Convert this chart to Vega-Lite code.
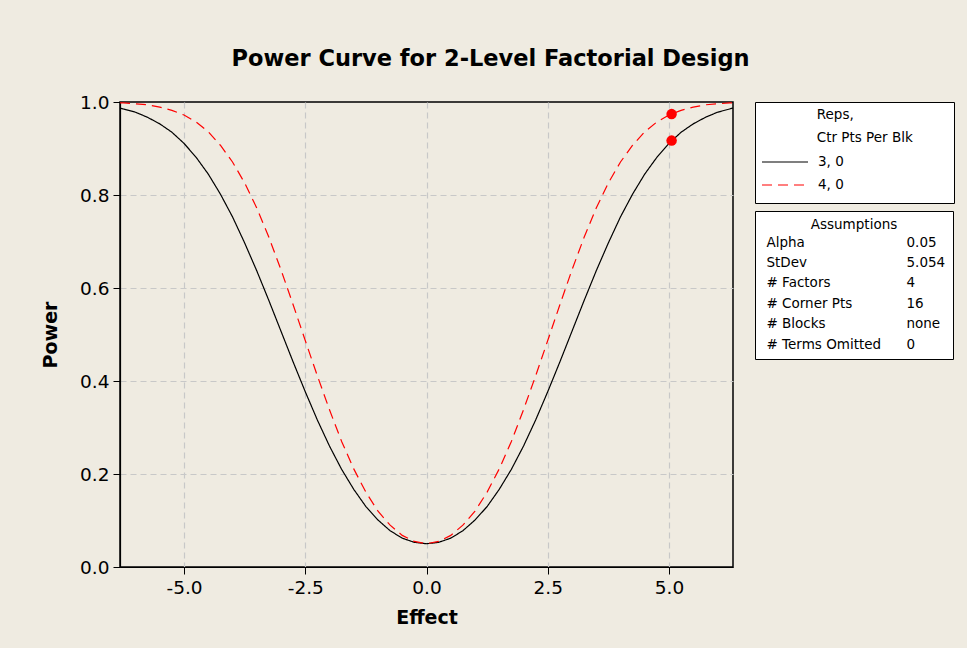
{
  "$schema": "https://vega.github.io/schema/vega-lite/v6.json",
  "width": 613,
  "height": 465,
  "autosize": {"type": "none"},
  "padding": {"left": 120, "top": 102, "right": 234, "bottom": 81},
  "background": "#efebe1",
  "title": {"text": "Power Curve for 2-Level Factorial Design", "fontSize": 22.5, "fontWeight": "bold", "font": "DejaVu Sans", "color": "black", "anchor": "middle", "dx": 64, "offset": 23},
  "datasets": {
    "curves": [
      {"effect": -6.32, "power": 0.987, "reps": "3, 0"}, {"effect": -6.25, "power": 0.985, "reps": "3, 0"}, {"effect": -6.0, "power": 0.978, "reps": "3, 0"}, {"effect": -5.75, "power": 0.967, "reps": "3, 0"}, {"effect": -5.5, "power": 0.953, "reps": "3, 0"}, {"effect": -5.25, "power": 0.935, "reps": "3, 0"}, {"effect": -5.0, "power": 0.911, "reps": "3, 0"}, {"effect": -4.75, "power": 0.881, "reps": "3, 0"}, {"effect": -4.5, "power": 0.845, "reps": "3, 0"}, {"effect": -4.25, "power": 0.802, "reps": "3, 0"}, {"effect": -4.0, "power": 0.753, "reps": "3, 0"}, {"effect": -3.75, "power": 0.697, "reps": "3, 0"}, {"effect": -3.5, "power": 0.637, "reps": "3, 0"}, {"effect": -3.25, "power": 0.573, "reps": "3, 0"}, {"effect": -3.0, "power": 0.507, "reps": "3, 0"}, {"effect": -2.75, "power": 0.441, "reps": "3, 0"}, {"effect": -2.5, "power": 0.377, "reps": "3, 0"}, {"effect": -2.25, "power": 0.316, "reps": "3, 0"}, {"effect": -2.0, "power": 0.26, "reps": "3, 0"}, {"effect": -1.75, "power": 0.21, "reps": "3, 0"}, {"effect": -1.5, "power": 0.167, "reps": "3, 0"}, {"effect": -1.25, "power": 0.13, "reps": "3, 0"}, {"effect": -1.0, "power": 0.101, "reps": "3, 0"}, {"effect": -0.75, "power": 0.078, "reps": "3, 0"}, {"effect": -0.5, "power": 0.062, "reps": "3, 0"}, {"effect": -0.25, "power": 0.053, "reps": "3, 0"}, {"effect": 0.0, "power": 0.05, "reps": "3, 0"}, {"effect": 0.25, "power": 0.053, "reps": "3, 0"}, {"effect": 0.5, "power": 0.062, "reps": "3, 0"}, {"effect": 0.75, "power": 0.078, "reps": "3, 0"}, {"effect": 1.0, "power": 0.101, "reps": "3, 0"}, {"effect": 1.25, "power": 0.13, "reps": "3, 0"}, {"effect": 1.5, "power": 0.167, "reps": "3, 0"}, {"effect": 1.75, "power": 0.21, "reps": "3, 0"}, {"effect": 2.0, "power": 0.26, "reps": "3, 0"}, {"effect": 2.25, "power": 0.316, "reps": "3, 0"}, {"effect": 2.5, "power": 0.377, "reps": "3, 0"}, {"effect": 2.75, "power": 0.441, "reps": "3, 0"}, {"effect": 3.0, "power": 0.507, "reps": "3, 0"}, {"effect": 3.25, "power": 0.573, "reps": "3, 0"}, {"effect": 3.5, "power": 0.637, "reps": "3, 0"}, {"effect": 3.75, "power": 0.697, "reps": "3, 0"}, {"effect": 4.0, "power": 0.753, "reps": "3, 0"}, {"effect": 4.25, "power": 0.802, "reps": "3, 0"}, {"effect": 4.5, "power": 0.845, "reps": "3, 0"}, {"effect": 4.75, "power": 0.881, "reps": "3, 0"}, {"effect": 5.0, "power": 0.911, "reps": "3, 0"}, {"effect": 5.25, "power": 0.935, "reps": "3, 0"}, {"effect": 5.5, "power": 0.953, "reps": "3, 0"}, {"effect": 5.75, "power": 0.967, "reps": "3, 0"}, {"effect": 6.0, "power": 0.978, "reps": "3, 0"}, {"effect": 6.25, "power": 0.985, "reps": "3, 0"}, {"effect": 6.32, "power": 0.987, "reps": "3, 0"},
      {"effect": -6.32, "power": 0.998, "reps": "4, 0"}, {"effect": -6.25, "power": 0.998, "reps": "4, 0"}, {"effect": -6.0, "power": 0.996, "reps": "4, 0"}, {"effect": -5.75, "power": 0.994, "reps": "4, 0"}, {"effect": -5.5, "power": 0.989, "reps": "4, 0"}, {"effect": -5.25, "power": 0.982, "reps": "4, 0"}, {"effect": -5.0, "power": 0.972, "reps": "4, 0"}, {"effect": -4.75, "power": 0.957, "reps": "4, 0"}, {"effect": -4.5, "power": 0.936, "reps": "4, 0"}, {"effect": -4.25, "power": 0.907, "reps": "4, 0"}, {"effect": -4.0, "power": 0.871, "reps": "4, 0"}, {"effect": -3.75, "power": 0.826, "reps": "4, 0"}, {"effect": -3.5, "power": 0.772, "reps": "4, 0"}, {"effect": -3.25, "power": 0.709, "reps": "4, 0"}, {"effect": -3.0, "power": 0.639, "reps": "4, 0"}, {"effect": -2.75, "power": 0.564, "reps": "4, 0"}, {"effect": -2.5, "power": 0.487, "reps": "4, 0"}, {"effect": -2.25, "power": 0.411, "reps": "4, 0"}, {"effect": -2.0, "power": 0.338, "reps": "4, 0"}, {"effect": -1.75, "power": 0.27, "reps": "4, 0"}, {"effect": -1.5, "power": 0.211, "reps": "4, 0"}, {"effect": -1.25, "power": 0.161, "reps": "4, 0"}, {"effect": -1.0, "power": 0.12, "reps": "4, 0"}, {"effect": -0.75, "power": 0.09, "reps": "4, 0"}, {"effect": -0.5, "power": 0.068, "reps": "4, 0"}, {"effect": -0.25, "power": 0.055, "reps": "4, 0"}, {"effect": 0.0, "power": 0.05, "reps": "4, 0"}, {"effect": 0.25, "power": 0.055, "reps": "4, 0"}, {"effect": 0.5, "power": 0.068, "reps": "4, 0"}, {"effect": 0.75, "power": 0.09, "reps": "4, 0"}, {"effect": 1.0, "power": 0.12, "reps": "4, 0"}, {"effect": 1.25, "power": 0.161, "reps": "4, 0"}, {"effect": 1.5, "power": 0.211, "reps": "4, 0"}, {"effect": 1.75, "power": 0.27, "reps": "4, 0"}, {"effect": 2.0, "power": 0.338, "reps": "4, 0"}, {"effect": 2.25, "power": 0.411, "reps": "4, 0"}, {"effect": 2.5, "power": 0.487, "reps": "4, 0"}, {"effect": 2.75, "power": 0.564, "reps": "4, 0"}, {"effect": 3.0, "power": 0.639, "reps": "4, 0"}, {"effect": 3.25, "power": 0.709, "reps": "4, 0"}, {"effect": 3.5, "power": 0.772, "reps": "4, 0"}, {"effect": 3.75, "power": 0.826, "reps": "4, 0"}, {"effect": 4.0, "power": 0.871, "reps": "4, 0"}, {"effect": 4.25, "power": 0.907, "reps": "4, 0"}, {"effect": 4.5, "power": 0.936, "reps": "4, 0"}, {"effect": 4.75, "power": 0.957, "reps": "4, 0"}, {"effect": 5.0, "power": 0.972, "reps": "4, 0"}, {"effect": 5.25, "power": 0.982, "reps": "4, 0"}, {"effect": 5.5, "power": 0.989, "reps": "4, 0"}, {"effect": 5.75, "power": 0.994, "reps": "4, 0"}, {"effect": 6.0, "power": 0.996, "reps": "4, 0"}, {"effect": 6.25, "power": 0.998, "reps": "4, 0"}, {"effect": 6.32, "power": 0.998, "reps": "4, 0"}
    ],
    "dots": [
      {"effect": 5.054, "power": 0.917},
      {"effect": 5.054, "power": 0.974}
    ],
    "assume": [
      {"item": "Alpha"}, {"item": "0.05"}, {"item": "StDev"}, {"item": "5.054"}, {"item": "# Factors"}, {"item": "4"}, {"item": "# Corner Pts"}, {"item": "16"}, {"item": "# Blocks"}, {"item": "none"}, {"item": "# Terms Omitted"}, {"item": "0"}
    ]
  },
  "layer": [
    {
      "data": {"name": "curves"},
      "mark": {"type": "line", "strokeWidth": 1.2},
      "encoding": {
        "x": {"field": "effect", "type": "quantitative", "title": "Effect",
          "scale": {"domain": [-6.32, 6.32], "nice": false, "zero": false},
          "axis": {"values": [-5, -2.5, 0, 2.5, 5], "format": ".1f", "labelExpr": "replace(datum.label, '\u2212', '-')", "titlePadding": 12}},
        "y": {"field": "power", "type": "quantitative", "title": "Power",
          "scale": {"domain": [0, 1], "nice": false},
          "axis": {"values": [0, 0.2, 0.4, 0.6, 0.8, 1], "format": ".1f", "titlePadding": 19,
            "gridOpacity": {"condition": {"test": "datum.value >= 0.99 || datum.value <= 0.01", "value": 0}, "value": 1}}},
        "color": {"field": "reps", "type": "nominal",
          "title": ["\u200b\u00a0\u00a0\u00a0\u00a0\u00a0\u00a0\u00a0\u00a0\u00a0\u00a0\u00a0\u00a0\u00a0Reps,", "\u200b\u00a0\u00a0\u00a0\u00a0\u00a0\u00a0\u00a0\u00a0\u00a0\u00a0\u00a0\u00a0\u00a0Ctr Pts Per Blk\u00a0\u00a0\u00a0\u00a0\u00a0\u00a0\u00a0\u00a0\u200b"],
          "scale": {"domain": ["3, 0", "4, 0"], "range": ["#000000", "#ff0000"]},
          "legend": {"orient": "right", "offset": 19, "padding": 6, "fillColor": "white", "strokeColor": "black", "titleFontWeight": "normal", "titleFontSize": 13.5, "titleLineHeight": 23, "titlePadding": 6, "titleLimit": 400, "labelFontSize": 13.5, "symbolType": "stroke", "symbolSize": 2116, "symbolStrokeWidth": 1.2, "clipHeight": 23, "rowPadding": 0, "labelOffset": 9}},
        "strokeDash": {"field": "reps", "type": "nominal",
          "title": ["\u200b\u00a0\u00a0\u00a0\u00a0\u00a0\u00a0\u00a0\u00a0\u00a0\u00a0\u00a0\u00a0\u00a0Reps,", "\u200b\u00a0\u00a0\u00a0\u00a0\u00a0\u00a0\u00a0\u00a0\u00a0\u00a0\u00a0\u00a0\u00a0Ctr Pts Per Blk\u00a0\u00a0\u00a0\u00a0\u00a0\u00a0\u00a0\u00a0\u200b"],
          "scale": {"domain": ["3, 0", "4, 0"], "range": [[1, 0], [10, 6]]},
          "legend": {"orient": "right", "offset": 19, "padding": 6, "fillColor": "white", "strokeColor": "black", "titleFontWeight": "normal", "titleFontSize": 13.5, "titleLineHeight": 23, "titlePadding": 6, "titleLimit": 400, "labelFontSize": 13.5, "symbolType": "stroke", "symbolSize": 2116, "symbolStrokeWidth": 1.2, "clipHeight": 23, "rowPadding": 0, "labelOffset": 9}}
      }
    },
    {
      "data": {"name": "dots"},
      "mark": {"type": "circle", "size": 110, "color": "#ff0000", "opacity": 1},
      "encoding": {
        "x": {"field": "effect", "type": "quantitative"},
        "y": {"field": "power", "type": "quantitative"}
      }
    },
    {
      "data": {"name": "assume"},
      "mark": {"type": "point", "opacity": 0},
      "encoding": {
        "shape": {"field": "item", "type": "nominal", "title": "Assumptions",
          "scale": {"domain": ["Alpha", "StDev", "# Factors", "# Corner Pts", "# Blocks", "# Terms Omitted", "0.05", "5.054", "4", "16", "none", "0"]},
          "legend": {"orient": "right", "offset": 19, "padding": 7, "fillColor": "white", "strokeColor": "black", "columns": 2, "columnPadding": 20, "rowPadding": 5.5, "symbolSize": 0, "symbolStrokeWidth": 0, "symbolOpacity": 0, "labelOffset": -9, "labelFontSize": 13.5, "titleFontSize": 13.5, "titleFontWeight": "normal", "titleAnchor": "middle", "titlePadding": 4, "labelLimit": 0,
            "encode": {"labels": {
              "enter": {"align": {"signal": "indexof(['0.05','5.054','4','16','none','0'], datum.value) >= 0 ? 'right' : 'left'"}, "dx": {"signal": "indexof(['0.05','5.054','4','16','none','0'], datum.value) >= 0 ? 37 : 0"}},
              "update": {"align": {"signal": "indexof(['0.05','5.054','4','16','none','0'], datum.value) >= 0 ? 'right' : 'left'"}, "dx": {"signal": "indexof(['0.05','5.054','4','16','none','0'], datum.value) >= 0 ? 37 : 0"}}}}}}
      }
    }
  ],
  "config": {
    "font": "DejaVu Sans",
    "view": {"stroke": "black", "strokeWidth": 1.5, "fill": "white"},
    "axis": {"labelFont": "DejaVu Sans", "labelFontSize": 18.5, "labelColor": "black", "titleFont": "DejaVu Sans", "titleFontSize": 19, "titleFontWeight": "bold", "titleColor": "black", "domainColor": "black", "domainWidth": 1.2, "tickColor": "black", "tickSize": 7, "labelPadding": 4, "labelFlush": false, "grid": true, "gridColor": "#c8c8c8", "gridDash": [6, 4], "gridWidth": 1.2},
    "legend": {"labelColor": "black", "titleColor": "black", "labelFont": "DejaVu Sans", "titleFont": "DejaVu Sans"}
  }
}
